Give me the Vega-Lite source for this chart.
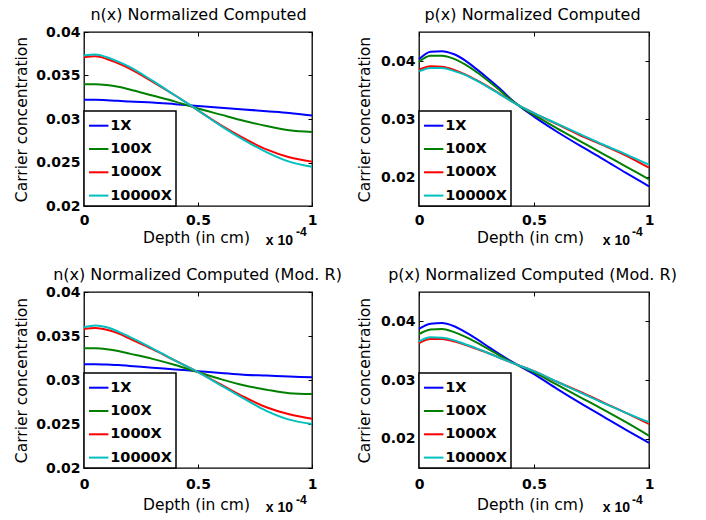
{
  "$schema": "https://vega.github.io/schema/vega-lite/v6.json",
  "background": "white",
  "padding": {"left": 13, "top": 5, "right": 0, "bottom": 0},
  "columns": 2,
  "spacing": {"row": 86, "column": 107},
  "bounds": "flush",
  "resolve": {"scale": {"color": "independent"}, "legend": {"color": "independent"}},
  "config": {
    "view": {"stroke": "black", "strokeWidth": 1.3},
    "axis": {
      "labelFont": "DejaVu Sans", "labelFontSize": 14, "labelFontWeight": "bold", "labelColor": "black",
      "titleFont": "DejaVu Sans", "titleFontSize": 15.5, "titleFontWeight": "normal", "titleColor": "black",
      "tickColor": "black", "tickWidth": 1, "tickSize": -4, "domain": false, "grid": false, "labelFlush": false, "labelOverlap": false
    },
    "legend": {
      "orient": "bottom-left", "offset": 0, "padding": 3.7, "strokeColor": "black", "strokeWidth": 1.5, "fillColor": "white",
      "symbolType": "stroke", "symbolSize": 376, "symbolStrokeWidth": 2, "labelFont": "DejaVu Sans", "labelFontSize": 14.5,
      "labelFontWeight": "bold", "labelColor": "black", "rowPadding": 5.3, "labelOffset": 0.5
    }
  },
  "datasets": {
    "n": [
      {"depth": 0, "1X": 0.0322, "100X": 0.0340, "1000X": 0.0371, "10000X": 0.0373},
      {"depth": 0.05, "1X": 0.0322, "100X": 0.0340, "1000X": 0.0372, "10000X": 0.0374},
      {"depth": 0.1, "1X": 0.03215, "100X": 0.0339, "1000X": 0.0369, "10000X": 0.0371},
      {"depth": 0.15, "1X": 0.0321, "100X": 0.0337, "1000X": 0.0364, "10000X": 0.0366},
      {"depth": 0.2, "1X": 0.0320, "100X": 0.0334, "1000X": 0.0358, "10000X": 0.0360},
      {"depth": 0.3, "1X": 0.0319, "100X": 0.0327, "1000X": 0.0343, "10000X": 0.0344},
      {"depth": 0.4, "1X": 0.0317, "100X": 0.0320, "1000X": 0.0327, "10000X": 0.0327},
      {"depth": 0.5, "1X": 0.0315, "100X": 0.0312, "1000X": 0.0310, "10000X": 0.0310},
      {"depth": 0.6, "1X": 0.0313, "100X": 0.0305, "1000X": 0.0293, "10000X": 0.0292},
      {"depth": 0.7, "1X": 0.0311, "100X": 0.0298, "1000X": 0.0278, "10000X": 0.0276},
      {"depth": 0.8, "1X": 0.0309, "100X": 0.0292, "1000X": 0.0265, "10000X": 0.0262},
      {"depth": 0.9, "1X": 0.0307, "100X": 0.0287, "1000X": 0.0256, "10000X": 0.0251},
      {"depth": 1.0, "1X": 0.0304, "100X": 0.0285, "1000X": 0.0251, "10000X": 0.0245}
    ],
    "p": [
      {"depth": 0, "1X": 0.0403, "100X": 0.0399, "1000X": 0.0385, "10000X": 0.0382},
      {"depth": 0.05, "1X": 0.0416, "100X": 0.0409, "1000X": 0.0391, "10000X": 0.0388},
      {"depth": 0.1, "1X": 0.0417, "100X": 0.0409, "1000X": 0.0390, "10000X": 0.0388},
      {"depth": 0.15, "1X": 0.0412, "100X": 0.0404, "1000X": 0.0385, "10000X": 0.0383},
      {"depth": 0.2, "1X": 0.0401, "100X": 0.0394, "1000X": 0.0377, "10000X": 0.0376},
      {"depth": 0.25, "1X": 0.0386, "100X": 0.0381, "1000X": 0.0367, "10000X": 0.0366},
      {"depth": 0.3, "1X": 0.0370, "100X": 0.0366, "1000X": 0.0356, "10000X": 0.0355},
      {"depth": 0.35, "1X": 0.0353, "100X": 0.0350, "1000X": 0.0344, "10000X": 0.0343},
      {"depth": 0.4, "1X": 0.0334, "100X": 0.0333, "1000X": 0.0331, "10000X": 0.0331},
      {"depth": 0.5, "1X": 0.0304, "100X": 0.0307, "1000X": 0.0310, "10000X": 0.0310},
      {"depth": 0.6, "1X": 0.0278, "100X": 0.0284, "1000X": 0.0291, "10000X": 0.0292},
      {"depth": 0.7, "1X": 0.0254, "100X": 0.0262, "1000X": 0.0272, "10000X": 0.0274},
      {"depth": 0.8, "1X": 0.0231, "100X": 0.0240, "1000X": 0.0255, "10000X": 0.0256},
      {"depth": 0.9, "1X": 0.0207, "100X": 0.0218, "1000X": 0.0237, "10000X": 0.0239},
      {"depth": 1.0, "1X": 0.0184, "100X": 0.0196, "1000X": 0.0216, "10000X": 0.0221}
    ],
    "nm": [
      {"depth": 0, "1X": 0.0318, "100X": 0.0336, "1000X": 0.0358, "10000X": 0.0360},
      {"depth": 0.05, "1X": 0.0318, "100X": 0.0336, "1000X": 0.0359, "10000X": 0.0362},
      {"depth": 0.1, "1X": 0.03175, "100X": 0.0335, "1000X": 0.0357, "10000X": 0.0360},
      {"depth": 0.15, "1X": 0.0317, "100X": 0.0333, "1000X": 0.0353, "10000X": 0.0355},
      {"depth": 0.2, "1X": 0.0316, "100X": 0.0330, "1000X": 0.0347, "10000X": 0.0349},
      {"depth": 0.3, "1X": 0.0314, "100X": 0.0324, "1000X": 0.0335, "10000X": 0.0336},
      {"depth": 0.4, "1X": 0.0312, "100X": 0.0317, "1000X": 0.0322, "10000X": 0.0322},
      {"depth": 0.5, "1X": 0.0310, "100X": 0.0309, "1000X": 0.0309, "10000X": 0.0309},
      {"depth": 0.6, "1X": 0.0308, "100X": 0.0301, "1000X": 0.0295, "10000X": 0.0294},
      {"depth": 0.7, "1X": 0.0306, "100X": 0.0294, "1000X": 0.0281, "10000X": 0.0279},
      {"depth": 0.8, "1X": 0.0305, "100X": 0.0289, "1000X": 0.0269, "10000X": 0.0265},
      {"depth": 0.9, "1X": 0.0304, "100X": 0.0285, "1000X": 0.0261, "10000X": 0.0255},
      {"depth": 1.0, "1X": 0.0303, "100X": 0.0284, "1000X": 0.0256, "10000X": 0.0250}
    ],
    "pm": [
      {"depth": 0, "1X": 0.0387, "100X": 0.0378, "1000X": 0.0363, "10000X": 0.0366},
      {"depth": 0.05, "1X": 0.0396, "100X": 0.0386, "1000X": 0.0370, "10000X": 0.0373},
      {"depth": 0.1, "1X": 0.0397, "100X": 0.0387, "1000X": 0.0370, "10000X": 0.0372},
      {"depth": 0.15, "1X": 0.0392, "100X": 0.0382, "1000X": 0.0366, "10000X": 0.0368},
      {"depth": 0.2, "1X": 0.0382, "100X": 0.0374, "1000X": 0.0360, "10000X": 0.0361},
      {"depth": 0.25, "1X": 0.0370, "100X": 0.0364, "1000X": 0.0353, "10000X": 0.0354},
      {"depth": 0.3, "1X": 0.0357, "100X": 0.0353, "1000X": 0.0346, "10000X": 0.0346},
      {"depth": 0.35, "1X": 0.0344, "100X": 0.0342, "1000X": 0.0338, "10000X": 0.0338},
      {"depth": 0.4, "1X": 0.0332, "100X": 0.0331, "1000X": 0.0330, "10000X": 0.0330},
      {"depth": 0.5, "1X": 0.0310, "100X": 0.0313, "1000X": 0.0315, "10000X": 0.0315},
      {"depth": 0.6, "1X": 0.0285, "100X": 0.0292, "1000X": 0.0297, "10000X": 0.0297},
      {"depth": 0.7, "1X": 0.0261, "100X": 0.0271, "1000X": 0.0280, "10000X": 0.0279},
      {"depth": 0.8, "1X": 0.0238, "100X": 0.0250, "1000X": 0.0262, "10000X": 0.0261},
      {"depth": 0.9, "1X": 0.0215, "100X": 0.0228, "1000X": 0.0244, "10000X": 0.0244},
      {"depth": 1.0, "1X": 0.0193, "100X": 0.0205, "1000X": 0.0225, "10000X": 0.0228}
    ]
  },
  "concat": [
    {
      "width": 228, "height": 174,
      "layer": [
        {
          "data": {"name": "n"},
          "transform": [{"fold": ["1X", "100X", "1000X", "10000X"], "as": ["series", "value"]}],
          "mark": {"type": "line", "interpolate": "monotone", "strokeWidth": 2},
          "encoding": {
            "x": {"field": "depth", "type": "quantitative", "scale": {"domain": [0, 1], "nice": false},
                  "axis": {"orient": "bottom", "values": [0, 0.5, 1], "format": "~g", "labelPadding": 11, "title": "Depth (in cm)", "titleX": 112, "titleY": 36, "titleAlign": "center", "titleBaseline": "alphabetic"}},
            "y": {"field": "value", "type": "quantitative", "scale": {"domain": [0.02, 0.04], "nice": false, "zero": false},
                  "axis": {"orient": "left", "values": [0.02, 0.025, 0.03, 0.035, 0.04], "format": "~g", "labelPadding": 8, "title": "Carrier concentration", "titleX": -58, "titleY": 87, "titleAngle": -90, "titleAlign": "center", "titleBaseline": "alphabetic"}},
            "color": {"field": "series", "type": "nominal", "sort": ["1X", "100X", "1000X", "10000X"],
                      "scale": {"domain": ["1X", "100X", "1000X", "10000X"], "range": ["#0000FF", "#008000", "#FF0000", "#00BFBF"]},
                      "legend": {"title": null}}
          }
        },
        {
          "data": {"values": [{"note": "x 10"}]},
          "mark": {"type": "text", "font": "Liberation Sans", "fontWeight": "bold", "fontSize": 14, "align": "right", "baseline": "alphabetic", "dx": -19, "dy": 38.5, "color": "black"},
          "encoding": {
            "text": {"field": "note"},
            "x": {"datum": 1, "type": "quantitative", "axis": {"orient": "top", "values": [0, 0.5, 1], "labels": false, "title": "n(x) Normalized Computed", "titleFontSize": 16, "titleX": 114, "titleY": -13, "titleAlign": "center", "titleBaseline": "alphabetic", "titleAngle": 0}},
            "y": {"datum": 0.02, "type": "quantitative", "axis": {"orient": "right", "values": [0.02, 0.025, 0.03, 0.035, 0.04], "labels": false, "title": null}}
          }
        },
        {
          "data": {"values": [{"note": "-4"}]},
          "mark": {"type": "text", "font": "Liberation Sans", "fontWeight": "bold", "fontSize": 12, "align": "left", "baseline": "alphabetic", "dx": -16, "dy": 30, "color": "black"},
          "encoding": {
            "text": {"field": "note"},
            "x": {"datum": 1, "type": "quantitative", "axis": null},
            "y": {"datum": 0.02, "type": "quantitative", "axis": null}
          }
        }
      ],
      "resolve": {"axis": {"x": "independent", "y": "independent"}}
    },
    {
      "width": 230, "height": 174,
      "layer": [
        {
          "data": {"name": "p"},
          "transform": [{"fold": ["1X", "100X", "1000X", "10000X"], "as": ["series", "value"]}],
          "mark": {"type": "line", "interpolate": "monotone", "strokeWidth": 2},
          "encoding": {
            "x": {"field": "depth", "type": "quantitative", "scale": {"domain": [0, 1], "nice": false},
                  "axis": {"orient": "bottom", "values": [0, 0.5, 1], "format": "~g", "labelPadding": 11, "title": "Depth (in cm)", "titleX": 111, "titleY": 36, "titleAlign": "center", "titleBaseline": "alphabetic"}},
            "y": {"field": "value", "type": "quantitative", "scale": {"domain": [0.015, 0.045], "nice": false, "zero": false},
                  "axis": {"orient": "left", "values": [0.02, 0.03, 0.04], "format": "~g", "labelPadding": 8, "title": "Carrier concentration", "titleX": -50, "titleY": 87, "titleAngle": -90, "titleAlign": "center", "titleBaseline": "alphabetic"}},
            "color": {"field": "series", "type": "nominal", "sort": ["1X", "100X", "1000X", "10000X"],
                      "scale": {"domain": ["1X", "100X", "1000X", "10000X"], "range": ["#0000FF", "#008000", "#FF0000", "#00BFBF"]},
                      "legend": {"title": null}}
          }
        },
        {
          "data": {"values": [{"note": "x 10"}]},
          "mark": {"type": "text", "font": "Liberation Sans", "fontWeight": "bold", "fontSize": 14, "align": "right", "baseline": "alphabetic", "dx": -19, "dy": 38.5, "color": "black"},
          "encoding": {
            "text": {"field": "note"},
            "x": {"datum": 1, "type": "quantitative", "axis": {"orient": "top", "values": [0, 0.5, 1], "labels": false, "title": "p(x) Normalized Computed", "titleFontSize": 16, "titleX": 113, "titleY": -13, "titleAlign": "center", "titleBaseline": "alphabetic", "titleAngle": 0}},
            "y": {"datum": 0.015, "type": "quantitative", "axis": {"orient": "right", "values": [0.02, 0.03, 0.04], "labels": false, "title": null}}
          }
        },
        {
          "data": {"values": [{"note": "-4"}]},
          "mark": {"type": "text", "font": "Liberation Sans", "fontWeight": "bold", "fontSize": 12, "align": "left", "baseline": "alphabetic", "dx": -17, "dy": 30, "color": "black"},
          "encoding": {
            "text": {"field": "note"},
            "x": {"datum": 1, "type": "quantitative", "axis": null},
            "y": {"datum": 0.015, "type": "quantitative", "axis": null}
          }
        }
      ],
      "resolve": {"axis": {"x": "independent", "y": "independent"}}
    },
    {
      "width": 228, "height": 176,
      "layer": [
        {
          "data": {"name": "nm"},
          "transform": [{"fold": ["1X", "100X", "1000X", "10000X"], "as": ["series", "value"]}],
          "mark": {"type": "line", "interpolate": "monotone", "strokeWidth": 2},
          "encoding": {
            "x": {"field": "depth", "type": "quantitative", "scale": {"domain": [0, 1], "nice": false},
                  "axis": {"orient": "bottom", "values": [0, 0.5, 1], "format": "~g", "labelPadding": 13, "title": "Depth (in cm)", "titleX": 112, "titleY": 41, "titleAlign": "center", "titleBaseline": "alphabetic"}},
            "y": {"field": "value", "type": "quantitative", "scale": {"domain": [0.02, 0.04], "nice": false, "zero": false},
                  "axis": {"orient": "left", "values": [0.02, 0.025, 0.03, 0.035, 0.04], "format": "~g", "labelPadding": 8, "title": "Carrier concentration", "titleX": -58, "titleY": 88, "titleAngle": -90, "titleAlign": "center", "titleBaseline": "alphabetic"}},
            "color": {"field": "series", "type": "nominal", "sort": ["1X", "100X", "1000X", "10000X"],
                      "scale": {"domain": ["1X", "100X", "1000X", "10000X"], "range": ["#0000FF", "#008000", "#FF0000", "#00BFBF"]},
                      "legend": {"title": null}}
          }
        },
        {
          "data": {"values": [{"note": "x 10"}]},
          "mark": {"type": "text", "font": "Liberation Sans", "fontWeight": "bold", "fontSize": 14, "align": "right", "baseline": "alphabetic", "dx": -19, "dy": 44, "color": "black"},
          "encoding": {
            "text": {"field": "note"},
            "x": {"datum": 1, "type": "quantitative", "axis": {"orient": "top", "values": [0, 0.5, 1], "labels": false, "title": "n(x) Normalized Computed (Mod. R)", "titleFontSize": 16, "titleX": 113, "titleY": -12.5, "titleAlign": "center", "titleBaseline": "alphabetic", "titleAngle": 0}},
            "y": {"datum": 0.02, "type": "quantitative", "axis": {"orient": "right", "values": [0.02, 0.025, 0.03, 0.035, 0.04], "labels": false, "title": null}}
          }
        },
        {
          "data": {"values": [{"note": "-4"}]},
          "mark": {"type": "text", "font": "Liberation Sans", "fontWeight": "bold", "fontSize": 12, "align": "left", "baseline": "alphabetic", "dx": -16, "dy": 36, "color": "black"},
          "encoding": {
            "text": {"field": "note"},
            "x": {"datum": 1, "type": "quantitative", "axis": null},
            "y": {"datum": 0.02, "type": "quantitative", "axis": null}
          }
        }
      ],
      "resolve": {"axis": {"x": "independent", "y": "independent"}}
    },
    {
      "width": 230, "height": 176,
      "layer": [
        {
          "data": {"name": "pm"},
          "transform": [{"fold": ["1X", "100X", "1000X", "10000X"], "as": ["series", "value"]}],
          "mark": {"type": "line", "interpolate": "monotone", "strokeWidth": 2},
          "encoding": {
            "x": {"field": "depth", "type": "quantitative", "scale": {"domain": [0, 1], "nice": false},
                  "axis": {"orient": "bottom", "values": [0, 0.5, 1], "format": "~g", "labelPadding": 13, "title": "Depth (in cm)", "titleX": 111, "titleY": 41, "titleAlign": "center", "titleBaseline": "alphabetic"}},
            "y": {"field": "value", "type": "quantitative", "scale": {"domain": [0.015, 0.045], "nice": false, "zero": false},
                  "axis": {"orient": "left", "values": [0.02, 0.03, 0.04], "format": "~g", "labelPadding": 8, "title": "Carrier concentration", "titleX": -50, "titleY": 88, "titleAngle": -90, "titleAlign": "center", "titleBaseline": "alphabetic"}},
            "color": {"field": "series", "type": "nominal", "sort": ["1X", "100X", "1000X", "10000X"],
                      "scale": {"domain": ["1X", "100X", "1000X", "10000X"], "range": ["#0000FF", "#008000", "#FF0000", "#00BFBF"]},
                      "legend": {"title": null}}
          }
        },
        {
          "data": {"values": [{"note": "x 10"}]},
          "mark": {"type": "text", "font": "Liberation Sans", "fontWeight": "bold", "fontSize": 14, "align": "right", "baseline": "alphabetic", "dx": -19, "dy": 44, "color": "black"},
          "encoding": {
            "text": {"field": "note"},
            "x": {"datum": 1, "type": "quantitative", "axis": {"orient": "top", "values": [0, 0.5, 1], "labels": false, "title": "p(x) Normalized Computed (Mod. R)", "titleFontSize": 16, "titleX": 113, "titleY": -12.5, "titleAlign": "center", "titleBaseline": "alphabetic", "titleAngle": 0}},
            "y": {"datum": 0.015, "type": "quantitative", "axis": {"orient": "right", "values": [0.02, 0.03, 0.04], "labels": false, "title": null}}
          }
        },
        {
          "data": {"values": [{"note": "-4"}]},
          "mark": {"type": "text", "font": "Liberation Sans", "fontWeight": "bold", "fontSize": 12, "align": "left", "baseline": "alphabetic", "dx": -17, "dy": 36, "color": "black"},
          "encoding": {
            "text": {"field": "note"},
            "x": {"datum": 1, "type": "quantitative", "axis": null},
            "y": {"datum": 0.015, "type": "quantitative", "axis": null}
          }
        }
      ],
      "resolve": {"axis": {"x": "independent", "y": "independent"}}
    }
  ]
}
